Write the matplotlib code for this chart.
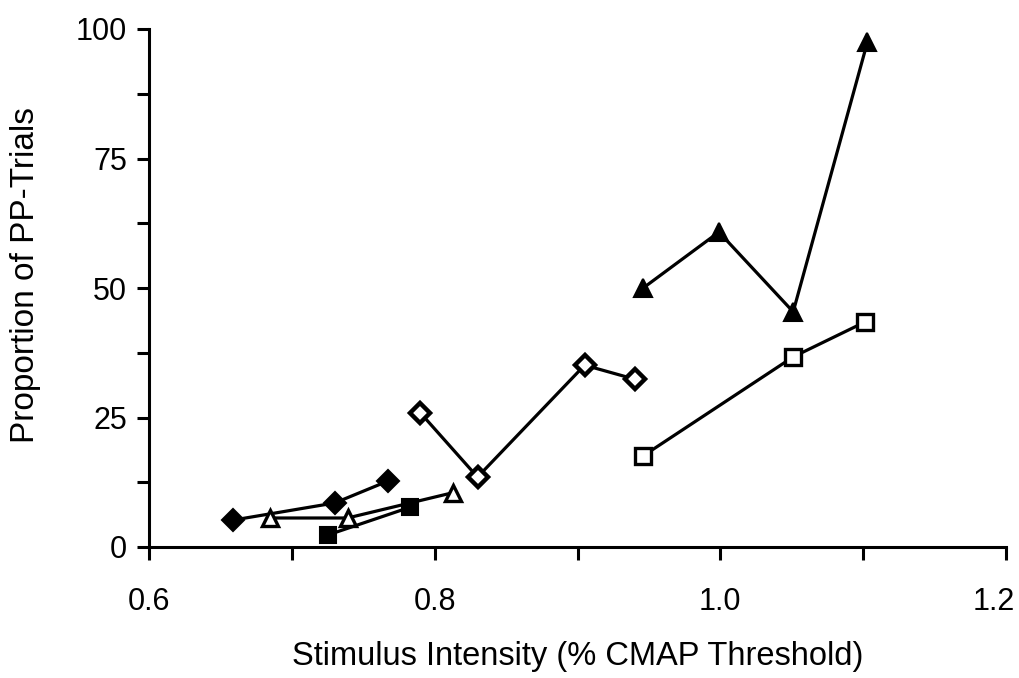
import matplotlib
matplotlib.use("Agg")
import matplotlib.pyplot as plt
import matplotlib.transforms as mtransforms
from matplotlib.ticker import MultipleLocator

plt.rcParams['font.family'] = ['Liberation Sans', 'DejaVu Sans']

# series
fdia_x = [0.659, 0.730, 0.767]
fdia_y = [5.2, 8.5, 12.7]

otri_x = [0.685, 0.739, 0.813]
otri_y = [5.6, 5.6, 10.5]

fsq_x = [0.725, 0.783]
fsq_y = [2.3, 7.7]

odia_x = [0.790, 0.830, 0.905, 0.940]
odia_y = [25.9, 13.5, 35.1, 32.4]

osq_x = [0.946, 1.051, 1.101]
osq_y = [17.6, 36.7, 43.4]

ftri_x = [0.946, 0.999, 1.051, 1.103]
ftri_y = [50.0, 60.8, 45.4, 97.5]

xticks = [0.6, 0.8, 1.0, 1.2]
xlabels = ['0.6', '0.8', '1.0', '1.2']
yticks = [0, 25, 50, 75, 100]

fig = plt.figure(figsize=(10.19, 6.78), dpi=100)
ax = fig.add_axes([149/1019, 131/678, 857/1019, 518/678])

lw = 2.3
common = dict(color='k', lw=lw, clip_on=False, zorder=3)
ax.plot(fdia_x, fdia_y, marker='D', ms=11, mfc='k', mec='k', mew=1.5, **common)
ax.plot(otri_x, otri_y, marker='^', ms=12, mfc='white', mec='k', mew=2.4, **common)
ax.plot(fsq_x, fsq_y, marker='s', ms=12, mfc='k', mec='k', mew=1.5, **common)
ax.plot(odia_x, odia_y, marker='D', ms=10, mfc='white', mec='k', mew=3.2, **common)
ax.plot(osq_x, osq_y, marker='s', ms=12, mfc='white', mec='k', mew=2.4, **common)
ax.plot(ftri_x, ftri_y, marker='^', ms=13, mfc='k', mec='k', mew=1.5, **common)

ax.set_xlim(0.6, 1.2)
ax.set_ylim(0, 100)
ax.set_xticks(xticks)
ax.set_xticklabels(xlabels)
ax.set_yticks(yticks)
ax.xaxis.set_minor_locator(MultipleLocator(0.1))
ax.yaxis.set_minor_locator(MultipleLocator(12.5))

for s in ['top', 'right']:
    ax.spines[s].set_visible(False)
for s in ['left', 'bottom']:
    ax.spines[s].set_linewidth(2.2)

ax.tick_params(which='both', direction='out', length=9, width=2.2, labelsize=22)
ax.tick_params(axis='x', pad=20)
ax.tick_params(axis='y', pad=7)

# last x label sits a bit left so it stays inside the figure
last = ax.get_xticklabels()[-1]
last.set_transform(last.get_transform() + mtransforms.ScaledTranslation(-12/100, 0, fig.dpi_scale_trans))

ax.set_xlabel('Stimulus Intensity (% CMAP Threshold)', fontsize=23.5, labelpad=17)
ax.set_ylabel('Proportion of PP-Trials', fontsize=24, labelpad=25)
ax.yaxis.label.set_y(0.525)

fig.savefig('out.png', dpi=100)
